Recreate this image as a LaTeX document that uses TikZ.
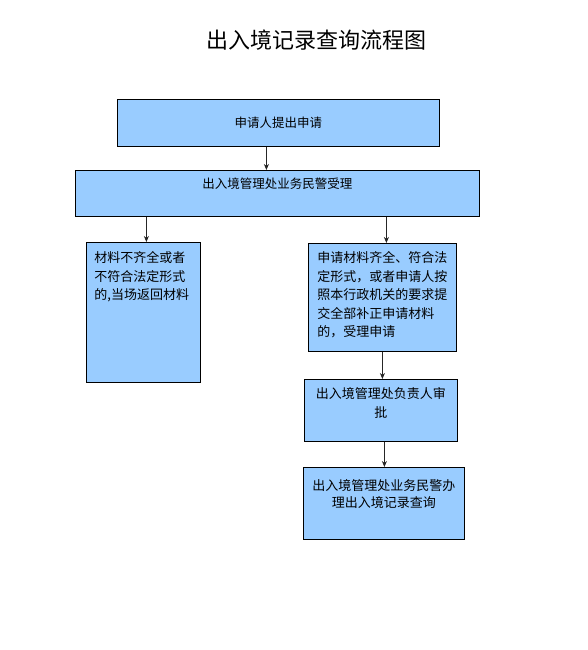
\documentclass[tikz,border=0pt]{standalone}
\usepackage{fontspec}
\setmainfont{Noto Sans CJK SC}
\usetikzlibrary{arrows.meta,positioning,calc}
\definecolor{fundo}{RGB}{153,204,255}

\begin{document}
\begin{tikzpicture}[x=1pt,y=-1pt,
    kuang/.style={draw=black,fill=fundo,anchor=north west,inner ysep=0pt,inner xsep=8pt,
                  font=\fontsize{13}{18.5}\selectfont,line width=0.8pt},
    biaoti/.style={font=\fontsize{22}{26}\selectfont},
    jiantou/.style={-{Stealth[length=6pt,width=5pt]},line width=0.7pt,black!85}]
  \useasboundingbox (0,0) rectangle (588,650);
  \node[biaoti] (titulo) at (316,40) {出入境记录查询流程图};
  \node[kuang,align=center,text width=306pt,text height=27.8pt,text depth=19.2pt,
        font=\fontsize{12.5}{18}\selectfont] (a) at (117,99) {申请人提出申请};
  \node[kuang,align=center,text width=388pt,text height=17.8pt,text depth=28.2pt,
        font=\fontsize{12.5}{18}\selectfont] (b) at (75,170) {出入境管理处业务民警受理};
  \node[kuang,align=left,text width=98pt,text height=20.3pt,text depth=119.7pt] (c) at (86,242)
       {材料不齐全或者\\不符合法定形式\\的,当场返回材料};
  \node[kuang,align=left,inner xsep=9pt,text width=130pt,text height=19.3pt,text depth=88.7pt] (d) at (308,243)
       {申请材料齐全、符合法\\定形式，或者申请人按\\照本行政机关的要求提\\交全部补正申请材料\\的，受理申请};
  \node[kuang,align=center,text width=137pt,text height=19pt,text depth=43pt,
        font=\fontsize{13}{19}\selectfont] (e) at (304,379) {出入境管理处负责人审\\批};
  \node[kuang,align=center,text width=145pt,text height=23pt,text depth=49pt,
        font=\fontsize{13}{17}\selectfont] (f) at (303,467) {出入境管理处业务民警办\\理出入境记录查询};
  \draw[jiantou] ([xshift=-12pt]a.south) -- ([xshift=-12pt]a.south |- b.north);
  \draw[jiantou] ([xshift=3pt]c.north |- b.south) -- ([xshift=3pt]c.north);
  \draw[jiantou] ([xshift=4pt]d.north |- b.south) -- ([xshift=4pt]d.north);
  \draw[jiantou] (d.south) -- (d.south |- e.north);
  \draw[jiantou] ([xshift=3.5pt]e.south) -- ([xshift=3.5pt]e.south |- f.north);
\end{tikzpicture}
\end{document}
